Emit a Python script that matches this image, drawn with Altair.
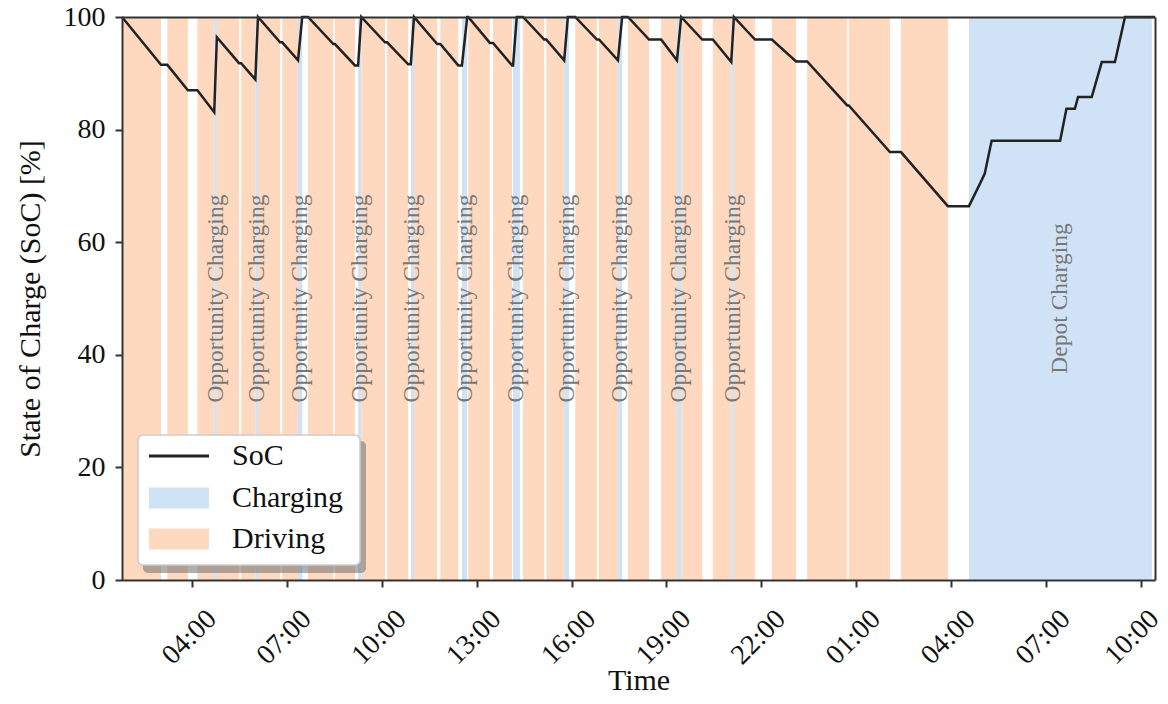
import altair as alt
import pandas as pd

FONT = "Liberation Serif"

# ---------------- data ----------------
# times "HH:MM" on day 1, "+HH:MM" on day 2
x_start = "01:47"
x_end = "+10:27"

drive_start = ["01:47", "03:13", "04:10", "04:47", "05:33", "06:05", "06:51", "07:40",
               "08:31", "09:21", "10:10", "11:01", "11:51", "12:44", "13:31", "14:28",
               "15:12", "16:07", "16:52", "17:47", "18:50", "19:28", "20:28", "21:08",
               "22:20", "23:27", "+00:46", "+02:25"]
drive_end = ["03:01", "03:52", "04:42", "05:29", "06:00", "06:47", "07:21", "08:28",
             "09:09", "10:06", "10:50", "11:45", "12:25", "13:25", "14:07", "15:08",
             "15:46", "16:48", "17:28", "18:27", "19:20", "20:08", "21:03", "21:48",
             "23:06", "+00:43", "+02:04", "+03:54"]

charge_start = ["04:42", "06:00", "07:21", "09:15", "10:55", "12:32", "14:09", "15:46",
                "17:28", "19:20", "21:03", "+04:34"]
charge_end = ["04:47", "06:05", "07:29", "09:21", "11:01", "12:42", "14:22", "15:55",
              "17:36", "19:28", "21:08", "+10:21"]
charge_label = ["Opportunity Charging"] * 11 + ["Depot Charging"]

soc_time = ["01:47", "03:01", "03:13", "03:52", "04:10", "04:42", "04:47", "05:29", "05:33",
            "06:00", "06:05", "06:47", "06:51", "07:21", "07:29", "07:40", "08:28", "08:31",
            "09:09", "09:15", "09:21", "10:06", "10:10", "10:50", "10:55", "11:01", "11:45",
            "11:51", "12:25", "12:32", "12:42", "12:44", "13:25", "13:31", "14:07", "14:09",
            "14:16", "14:28", "15:08", "15:12", "15:46", "15:53", "16:07", "16:48", "16:52",
            "17:28", "17:36", "17:47", "18:27", "18:50", "19:20", "19:28", "20:08", "20:28",
            "21:03", "21:08", "21:48", "22:20", "23:06", "23:27", "+00:43", "+00:46", "+02:04",
            "+02:25", "+03:54", "+04:34", "+04:55", "+05:04", "+05:17", "+07:27", "+07:39",
            "+07:55", "+08:01", "+08:27", "+08:46", "+09:11", "+09:30", "+10:27"]
soc_value = [100, 91.5, 91.5, 87.0, 87.0, 83.1, 96.4, 91.8, 91.8,
             88.9, 100, 95.5, 95.5, 92.3, 100, 100, 95.2, 95.2,
             91.4, 91.4, 100, 95.5, 95.5, 91.6, 91.6, 100, 95.2,
             95.2, 91.4, 91.4, 100, 100, 95.4, 95.4, 91.4, 91.4,
             100, 100, 96.0, 96.0, 92.3, 100, 100, 96.0, 96.0,
             92.3, 100, 100, 96.0, 96.0, 92.3, 100, 96.0, 96.0,
             92.0, 100, 96.0, 96.0, 92.1, 92.1, 84.3, 84.3, 76.0,
             76.0, 66.4, 66.4, 70.4, 72.2, 78.0, 78.0, 83.7,
             83.7, 85.8, 85.8, 92.0, 92.0, 100, 100]

x_ticks = [4, 7, 10, 13, 16, 19, 22, 25, 28, 31, 34]   # hours since day-1 midnight
y_ticks = [0, 20, 40, 60, 80, 100]

line_name = ["SoC"]
line_color = ["#222222"]
band_names = ["Charging", "Driving"]
band_colors = ["#d0e2f6", "#ffd9bf"]


def hours(s):
    day = 24 if s.startswith("+") else 0
    h, m = s.lstrip("+").split(":")
    return day + int(h) + int(m) / 60


# ---------------- tables ----------------
df_drive = pd.DataFrame({"start": [hours(s) for s in drive_start],
                         "end": [hours(s) for s in drive_end],
                         "kind": "Driving"})
df_charge = pd.DataFrame({"start": [hours(s) for s in charge_start],
                          "end": [hours(s) for s in charge_end],
                          "kind": "Charging",
                          "label": charge_label})
df_rect = pd.concat([df_drive, df_charge[["start", "end", "kind"]]], ignore_index=True)
df_charge["mid"] = (df_charge["start"] + df_charge["end"]) / 2
df_charge["ypos"] = 50
df_soc = pd.DataFrame({"t": [hours(s) for s in soc_time], "soc": soc_value, "series": "SoC"})

# ---------------- scales / guides ----------------
xscale = alt.Scale(domain=[hours(x_start), hours(x_end)], nice=False, zero=False)
yscale = alt.Scale(domain=[0, 100], nice=False)

rect_shape = "M-3,-1.05H3V1.05H-3Z"
line_shape = "M-3,0H3"

legend_soc = alt.Legend(
    title=None, orient="none", legendX=22, legendY=424, zindex=1, padding=0,
    labelFont=FONT, labelFontSize=30, labelColor="#111111", labelOffset=38,
    symbolSize=400, symbolOffset=20, symbolType=line_shape,
    symbolStrokeWidth=3, symbolStrokeColor="#333333", symbolOpacity=1,
)
legend_band = alt.Legend(
    title=None, orient="none", legendX=22, legendY=466, zindex=1, padding=0,
    labelFont=FONT, labelFontSize=30, labelColor="#111111", labelOffset=38,
    symbolSize=400, symbolOffset=20, symbolType=rect_shape, rowPadding=11,
    symbolStrokeWidth=0, symbolOpacity=1,
)

AX = dict(domainColor="#333333", domainWidth=2, tickColor="#333333", tickWidth=2,
          grid=False, zindex=1)

last_tick = x_ticks[-1]
bottom_axis = alt.Axis(
    values=x_ticks,
    labelExpr="(datum.value % 24 < 10 ? '0' : '') + (datum.value % 24) + ':00'",
    labelAngle=315, labelAlign="center", labelBaseline="middle",
    labelFont=FONT, labelFontSize=28, labelColor="#111111",
    labelOffset=alt.condition("datum.value == %d" % last_tick, alt.value(-9), alt.value(-3)),
    labelPadding=50, tickSize=7, labelFlush=False, labelOverlap=False, labelBound=False,
    title="Time", titleFont=FONT, titleFontSize=30, titleFontWeight="normal",
    titleColor="#111111", titleX=516.5, titleY=109, titleAlign="center",
    titleBaseline="alphabetic", orient="bottom", **AX)

left_axis = alt.Axis(
    values=y_ticks, labelFont=FONT, labelFontSize=28, labelColor="#111111",
    labelPadding=10, tickSize=7,
    title="State of Charge (SoC) [%]", titleFont=FONT, titleFontSize=30,
    titleFontWeight="normal", titleColor="#111111", titleX=-92, titleY=281.5,
    titleAngle=270, titleAlign="center", titleBaseline="middle", orient="left", **AX)

top_axis = alt.Axis(orient="top", labels=False, ticks=False, title=None, **AX)
right_axis = alt.Axis(orient="right", labels=False, ticks=False, title=None, **AX)

# ---------------- layers ----------------
rects = alt.Chart(df_rect).mark_rect().encode(
    x=alt.X("start:Q", scale=xscale, axis=bottom_axis),
    x2="end:Q",
    fill=alt.Fill("kind:N", scale=alt.Scale(domain=band_names, range=band_colors),
                  legend=legend_band),
)

line = alt.Chart(df_soc).mark_line(strokeWidth=2.5).encode(
    x=alt.X("t:Q", scale=xscale, axis=top_axis),
    y=alt.Y("soc:Q", scale=yscale, axis=left_axis),
    stroke=alt.Stroke("series:N", scale=alt.Scale(domain=line_name, range=line_color),
                      legend=legend_soc),
)

labels = alt.Chart(df_charge).mark_text(
    angle=270, font=FONT, fontSize=23.5, color="#777777", align="center", baseline="middle"
).encode(
    x=alt.X("mid:Q", scale=xscale, axis=None),
    y=alt.Y("ypos:Q", scale=yscale, axis=right_axis),
    text="label:N",
)

# legend frame (decoration) and its drop shadow
one_row = pd.DataFrame({"k": [0]})
shadow = alt.Chart(one_row).mark_rect(color="#6f6f6f", opacity=0.55, cornerRadius=5).encode(
    x=alt.value(21), x2=alt.value(244), y=alt.value(424), y2=alt.value(556)
)
frame = alt.Chart(one_row).mark_rect(fill="white", stroke="#cccccc", strokeWidth=1.5,
                                     cornerRadius=5).encode(
    x=alt.value(16), x2=alt.value(238), y=alt.value(418), y2=alt.value(548)
)

chart = alt.layer(rects, line, labels, shadow, frame).resolve_axis(
    x="independent", y="independent"
).properties(
    width=1033, height=563,
    padding={"left": 114, "top": 9, "right": 5, "bottom": 112},
    autosize=alt.AutoSizeParams(type="none"),
).configure_view(stroke=None).configure(font=FONT, background="white")

chart.save("out.html", embed_options={"renderer": "svg", "actions": False})
